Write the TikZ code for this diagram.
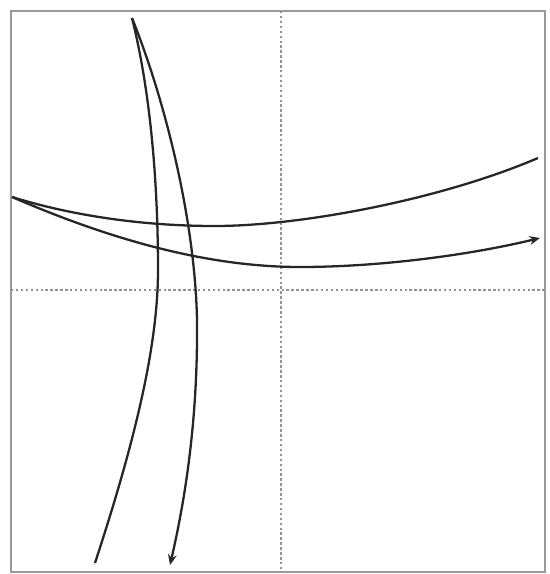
\documentclass[tikz,border=0pt]{standalone}
\usepackage{xcolor}
\usetikzlibrary{arrows.meta,calc}

\begin{document}
\begin{tikzpicture}[
    x=0.02cm, y=-0.02cm,
    frame/.style={draw=gray!80, line width=1.4pt},
    axis/.style={draw=gray!85, line width=0.7pt, dash pattern=on 1.4pt off 1.4pt},
    curve/.style={draw=black!85, line width=1.3pt},
    arrow/.style={curve, -{Stealth[length=6pt, width=5pt]}}
]
    \useasboundingbox (0,0) rectangle (550,574);
    \coordinate (tl) at (11,11);
    \coordinate (br) at (545,572);
    \draw [frame] (tl) rectangle (br);

    % dashed axes
    \coordinate (vtop) at (281,11);
    \coordinate (vbot) at (281,572);
    \coordinate (hleft) at (11,290);
    \coordinate (hright) at (545,290);
    \draw [axis] (vtop) -- (vbot);
    \draw [axis] (hleft) -- (hright);

    % shared start points
    \coordinate (west) at (12,197);
    \coordinate (north) at (132,18);

    % horizontal curves
    \coordinate (a-mid) at (215,226);
    \coordinate (a-end) at (538,158);
    \coordinate (b-mid) at (300,267);
    \coordinate (b-end) at (540,238);
    \draw [curve] (west) .. controls (70,215) and (140,226) .. (a-mid)
        .. controls (300,226) and (440,200) .. (a-end);
    \draw [arrow] (west) .. controls (100,235) and (200,267) .. (b-mid)
        .. controls (380,267) and (470,255) .. (b-end);

    % vertical curves
    \coordinate (c-mid) at (158,270);
    \coordinate (c-end) at (95,563);
    \coordinate (d-mid) at (197,320);
    \coordinate (d-end) at (170,565);
    \draw [curve] (north) .. controls (150,90) and (158,180) .. (c-mid)
        .. controls (158,350) and (132,450) .. (c-end);
    \draw [arrow] (north) .. controls (165,100) and (195,220) .. (d-mid)
        .. controls (198,420) and (185,500) .. (d-end);
\end{tikzpicture}
\end{document}
